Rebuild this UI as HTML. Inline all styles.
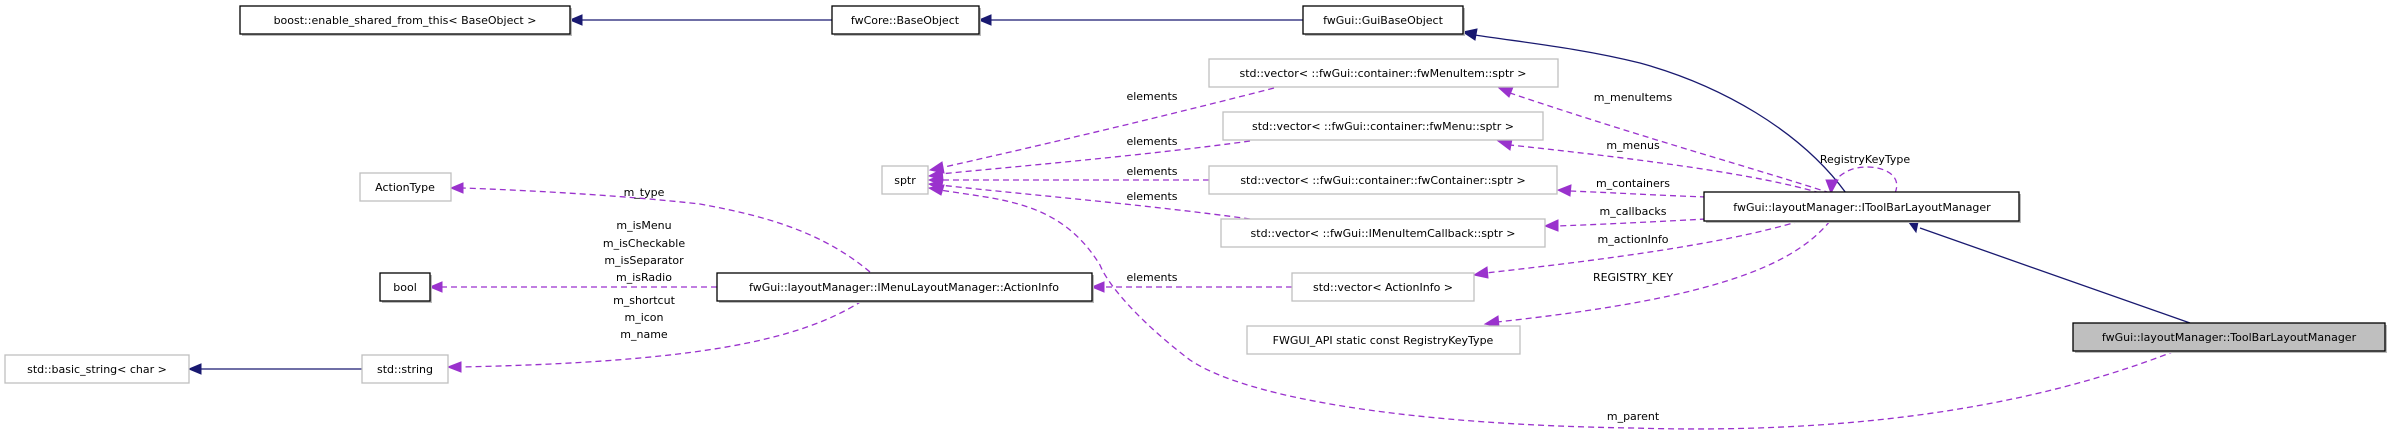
<!DOCTYPE html>
<html><head><meta charset="utf-8"><style>
html,body{margin:0;padding:0;background:#fff;}
svg{display:block;}
text{font-family:"DejaVu Sans","Liberation Sans",sans-serif;font-size:11px;fill:#000;}
.nb{fill:#fff;stroke:#000;stroke-width:1.3;}
.ng{fill:#fff;stroke:#bfbfbf;stroke-width:1.3;}
.sh{fill:#bbb;}
.inh{fill:none;stroke:#191970;stroke-width:1.3;}
.use{fill:none;stroke:#9a32cd;stroke-width:1.3;stroke-dasharray:6,4;}
.ah{fill:#191970;stroke:#191970;}
.ap{fill:#9a32cd;stroke:#9a32cd;}
</style></head><body>
<svg width="2387" height="433" viewBox="0 0 2387 433" xmlns="http://www.w3.org/2000/svg">
<!-- edges -->
<path class="inh" d="M832,20 L582,20"/><polygon class="ah" points="582,15 570,20 582,25"/>
<path class="inh" d="M1303,20 L991,20"/><polygon class="ah" points="991,15 979,20 991,25"/>
<path class="inh" d="M1846,193 C1800,130 1720,85 1640,63 C1580,48 1520,42 1475,35"/><polygon class="ah" points="1477,29 1463,32 1475,40"/>
<path class="inh" d="M2190,323 L1920,228"/><polygon class="ah" points="1918,222 1908,221 1916,232"/>

<!-- uses -->
<path class="use" d="M1274,88 C1150,120 1020,150 940,168"/><polygon class="ap" points="942,162 930,170 944,173"/>
<path class="use" d="M1250,141 C1150,155 1000,168 940,174"/><polygon class="ap" points="942,169 929,176 943,180"/>
<path class="use" d="M1209,180 L941,180"/><polygon class="ap" points="941,175 929,180 941,185"/>
<path class="use" d="M1250,219 C1150,205 1000,192 940,185"/><polygon class="ap" points="943,180 929,184 941,191"/>
<path class="use" d="M2175,351 C2000,420 1800,433 1633,428 C1420,425 1250,400 1190,360 C1150,330 1110,290 1100,265 C1060,200 1000,200 940,190"/><polygon class="ap" points="944,185 929,188 941,195"/>
<path class="use" d="M1292,287 L1104,287"/><polygon class="ap" points="1104,282 1092,287 1104,292"/>
<path class="use" d="M1830,193 C1760,170 1650,140 1510,93"/><polygon class="ap" points="1513,87 1499,88 1509,97"/>
<path class="use" d="M1820,193 C1760,175 1650,160 1510,145"/><polygon class="ap" points="1512,139 1498,141 1510,150"/>
<path class="use" d="M1706,197 C1650,195 1620,193 1570,191"/><polygon class="ap" points="1571,185 1558,190 1570,196"/>
<path class="use" d="M1706,219 C1650,222 1610,224 1557,226"/><polygon class="ap" points="1558,220 1545,226 1558,231"/>
<path class="use" d="M1800,221 C1720,245 1600,260 1486,273"/><polygon class="ap" points="1487,267 1474,275 1488,278"/>
<path class="use" d="M1830,221 C1790,270 1700,300 1497,322"/><polygon class="ap" points="1498,316 1485,324 1499,327"/>
<path class="use" d="M1895,193 C1905,170 1870,162 1850,170 C1838,175 1832,183 1832,190"/><polygon class="ap" points="1826,180 1831,193 1838,180"/>
<path class="use" d="M870,272 C820,230 760,215 700,204 C620,195 520,190 463,188"/><polygon class="ap" points="463,183 451,188 463,193"/>
<path class="use" d="M717,287 L442,287"/><polygon class="ap" points="442,282 430,287 442,292"/>
<path class="use" d="M862,301 C800,340 700,362 460,367"/><polygon class="ap" points="461,362 448,367 461,372"/>
<path class="inh" d="M362,369 L201,369"/><polygon class="ah" points="201,364 189,369 201,374"/>

<!-- edge labels -->
<g text-anchor="middle">
<text x="644" y="196">m_type</text>
<text x="644" y="229">m_isMenu</text>
<text x="644" y="247">m_isCheckable</text>
<text x="644" y="264">m_isSeparator</text>
<text x="644" y="281">m_isRadio</text>
<text x="644" y="304">m_shortcut</text>
<text x="644" y="321">m_icon</text>
<text x="644" y="338">m_name</text>
<text x="1152" y="100">elements</text>
<text x="1152" y="145">elements</text>
<text x="1152" y="175">elements</text>
<text x="1152" y="200">elements</text>
<text x="1152" y="281">elements</text>
<text x="1633" y="101">m_menuItems</text>
<text x="1633" y="149">m_menus</text>
<text x="1865" y="163">RegistryKeyType</text>
<text x="1633" y="187">m_containers</text>
<text x="1633" y="215">m_callbacks</text>
<text x="1633" y="243">m_actionInfo</text>
<text x="1633" y="281">REGISTRY_KEY</text>
<text x="1633" y="420">m_parent</text>
</g>

<!-- nodes -->
<g text-anchor="middle">
<rect class="sh" x="242" y="8" width="330" height="28"/><rect class="nb" x="240" y="6" width="330" height="28"/><text x="405" y="24">boost::enable_shared_from_this&lt; BaseObject &gt;</text>
<rect class="sh" x="834" y="8" width="147" height="28"/><rect class="nb" x="832" y="6" width="147" height="28"/><text x="905" y="24">fwCore::BaseObject</text>
<rect class="sh" x="1305" y="8" width="160" height="28"/><rect class="nb" x="1303" y="6" width="160" height="28"/><text x="1383" y="24">fwGui::GuiBaseObject</text>
<rect class="ng" x="1209" y="59" width="349" height="28"/><text x="1383" y="77">std::vector&lt; ::fwGui::container::fwMenuItem::sptr &gt;</text>
<rect class="ng" x="1223" y="112" width="320" height="28"/><text x="1383" y="130">std::vector&lt; ::fwGui::container::fwMenu::sptr &gt;</text>
<rect class="ng" x="1209" y="166" width="348" height="28"/><text x="1383" y="184">std::vector&lt; ::fwGui::container::fwContainer::sptr &gt;</text>
<rect class="ng" x="1221" y="219" width="324" height="28"/><text x="1383" y="237">std::vector&lt; ::fwGui::IMenuItemCallback::sptr &gt;</text>
<rect class="ng" x="1292" y="273" width="182" height="28"/><text x="1383" y="291">std::vector&lt; ActionInfo &gt;</text>
<rect class="ng" x="1247" y="326" width="273" height="28"/><text x="1383" y="344">FWGUI_API static const RegistryKeyType</text>
<rect class="sh" x="1706" y="194" width="315" height="29"/><rect class="nb" x="1704" y="192" width="315" height="29"/><text x="1862" y="211">fwGui::layoutManager::IToolBarLayoutManager</text>
<rect class="sh" x="2075" y="325" width="312" height="28"/><rect x="2073" y="323" width="312" height="28" fill="#bfbfbf" stroke="#000" stroke-width="1.3"/><text x="2229" y="341">fwGui::layoutManager::ToolBarLayoutManager</text>
<rect class="ng" x="360" y="173" width="91" height="28"/><text x="405" y="191">ActionType</text>
<rect class="ng" x="882" y="166" width="46" height="28"/><text x="905" y="184">sptr</text>
<rect class="sh" x="382" y="275" width="50" height="28"/><rect class="nb" x="380" y="273" width="50" height="28"/><text x="405" y="291">bool</text>
<rect class="sh" x="719" y="275" width="375" height="28"/><rect class="nb" x="717" y="273" width="375" height="28"/><text x="904" y="291">fwGui::layoutManager::IMenuLayoutManager::ActionInfo</text>
<rect class="ng" x="5" y="355" width="184" height="28"/><text x="97" y="373">std::basic_string&lt; char &gt;</text>
<rect class="ng" x="362" y="355" width="86" height="28"/><text x="405" y="373">std::string</text>
</g>
</svg>
</body></html>
